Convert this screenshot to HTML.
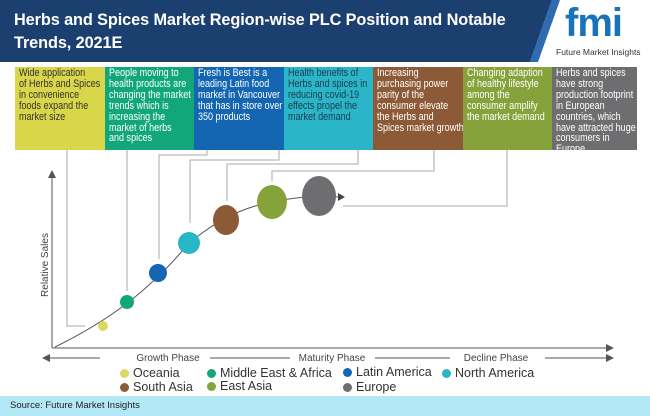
<!DOCTYPE html>
<html><head><meta charset="utf-8"><style>
body{margin:0;width:650px;height:416px;overflow:hidden;background:#fff;font-family:"Liberation Sans",sans-serif;position:relative}
.hdr{position:absolute;left:0;top:0;width:650px;height:62px}
.title{position:absolute;left:14px;top:9px;color:#fff;font-weight:bold;font-size:16.3px;line-height:23px;letter-spacing:-0.1px}
.box{position:absolute;top:67px;height:83px;width:89.5px;overflow:hidden}
.box div{position:absolute;left:4px;top:1px;white-space:nowrap;color:#fff;font-size:11px;line-height:10.9px;transform:scaleX(0.82);transform-origin:0 0}
.lg{position:absolute;font-size:12.5px;color:#333}
.dot{display:inline-block;width:9px;height:9px;border-radius:50%;margin-right:4px;vertical-align:-1px}
</style></head><body>
<svg class="hdr" width="650" height="62">
<polygon points="0,0 552,0 530,62 0,62" fill="#1b3f6e"/>
<polygon points="552,0 560,0 538,62 530,62" fill="#2e6bb0"/>
</svg>
<div class="title">Herbs and Spices Market Region-wise PLC Position and Notable<br>Trends, 2021E</div>
<div style="position:absolute;left:565px;top:2px;width:82px;height:42px;color:#1a73b8;font-weight:bold;font-size:40px;line-height:42px;letter-spacing:-1px">fmi</div>
<div style="position:absolute;left:556px;top:47px;font-size:8.5px;color:#333">Future Market Insights</div>
<div class="box" style="left:15px;background:#d9d64a"><div style="color:#333">Wide application<br>of Herbs and Spices<br>in convenience<br>foods expand the<br>market size</div></div>
<div class="box" style="left:104.5px;background:#12a77a"><div>People moving to<br>health products are<br>changing the market<br>trends which is<br>increasing the<br>market of herbs<br>and spices</div></div>
<div class="box" style="left:194px;background:#1466b3"><div>Fresh is Best is a<br>leading Latin food<br>market in Vancouver<br>that has in store over<br>350 products</div></div>
<div class="box" style="left:283.5px;background:#2bb5c8"><div style="color:#1c3a4a">Health  benefits of<br>Herbs and spices in<br>reducing covid-19<br>effects propel the<br>market demand</div></div>
<div class="box" style="left:373px;background:#8c5a36"><div>Increasing<br>purchasing power<br>parity of the<br>consumer elevate<br>the Herbs and<br>Spices market growth</div></div>
<div class="box" style="left:462.5px;background:#86a23a"><div>Changing adaption<br>of healthy lifestyle<br>among the<br>consumer amplify<br>the market demand</div></div>
<div class="box" style="left:552px;width:85px;background:#6e6e70"><div>Herbs and spices<br>have strong<br>production footprint<br>in European<br>countries, which<br>have attracted huge<br>consumers in<br>Europe</div></div>
<svg style="position:absolute;left:0;top:0" width="650" height="416">
<g stroke="#aaa" stroke-width="1" fill="none">
<polyline points="67,150 67,326 85,326"/>
<polyline points="127,150 127,291"/>
<polyline points="207,150 207,155 159,155 159,259"/>
<polyline points="279,150 279,160 190,160 190,223"/>
<polyline points="358,150 358,164 227,164 227,201"/>
<polyline points="434,150 434,171 272,171 272,181"/>
<polyline points="507,150 507,206 343,206"/>
</g>
<g stroke="#555" stroke-width="1" fill="none">
<path d="M55,347 C110,320 150,290 189,243 C230,210 260,200 319,196 L338,197"/>
<line x1="52" y1="348" x2="52" y2="177"/>
<line x1="52" y1="348" x2="608" y2="348"/>
<line x1="48" y1="358" x2="100" y2="358"/><line x1="210" y1="358" x2="290" y2="358"/><line x1="375" y1="358" x2="450" y2="358"/><line x1="545" y1="358" x2="608" y2="358"/>
</g>
<polygon points="52,170 48,178 56,178" fill="#555"/>
<polygon points="614,348 606,344 606,352" fill="#555"/>
<polygon points="614,358 606,354 606,362" fill="#555"/>
<polygon points="42,358 50,354 50,362" fill="#555"/>
<polygon points="345,197 338,193 338,201" fill="#444"/>
<circle cx="103" cy="326" r="5" fill="#dcd864"/>
<circle cx="127" cy="302" r="7" fill="#12a77a"/>
<circle cx="158" cy="273" r="9" fill="#1466b3"/>
<circle cx="189" cy="243" r="11" fill="#2bb5c8"/>
<ellipse cx="226" cy="220" rx="13" ry="15" fill="#8c5a36"/>
<ellipse cx="272" cy="202" rx="15" ry="17" fill="#86a23a"/>
<ellipse cx="319" cy="196" rx="17" ry="20" fill="#6e6e70"/>
<text x="48" y="265" transform="rotate(-90 48 265)" font-size="10" fill="#444" text-anchor="middle" font-family="Liberation Sans">Relative Sales</text>
<g font-size="10" fill="#444" font-family="Liberation Sans" text-anchor="middle">
<text x="168" y="361">Growth Phase</text><text x="332" y="361">Maturity Phase</text><text x="496" y="361">Decline Phase</text>
</g>
</svg>
<div class="lg" style="left:120px;top:366px"><span class="dot" style="background:#dcd864"></span>Oceania</div>
<div class="lg" style="left:207px;top:366px"><span class="dot" style="background:#12a77a"></span>Middle East &amp; Africa</div>
<div class="lg" style="left:343px;top:365px"><span class="dot" style="background:#1466b3"></span>Latin America</div>
<div class="lg" style="left:442px;top:366px"><span class="dot" style="background:#2bb5c8"></span>North America</div>
<div class="lg" style="left:120px;top:380px"><span class="dot" style="background:#8c5a36"></span>South Asia</div>
<div class="lg" style="left:207px;top:379px"><span class="dot" style="background:#86a23a"></span>East Asia</div>
<div class="lg" style="left:343px;top:380px"><span class="dot" style="background:#6e6e70"></span>Europe</div>
<div style="position:absolute;left:0;top:396px;width:650px;height:20px;background:#b3e8f6"></div>
<div style="position:absolute;left:10px;top:400px;font-size:9.5px;color:#222">Source: Future Market Insights</div>
</body></html>
